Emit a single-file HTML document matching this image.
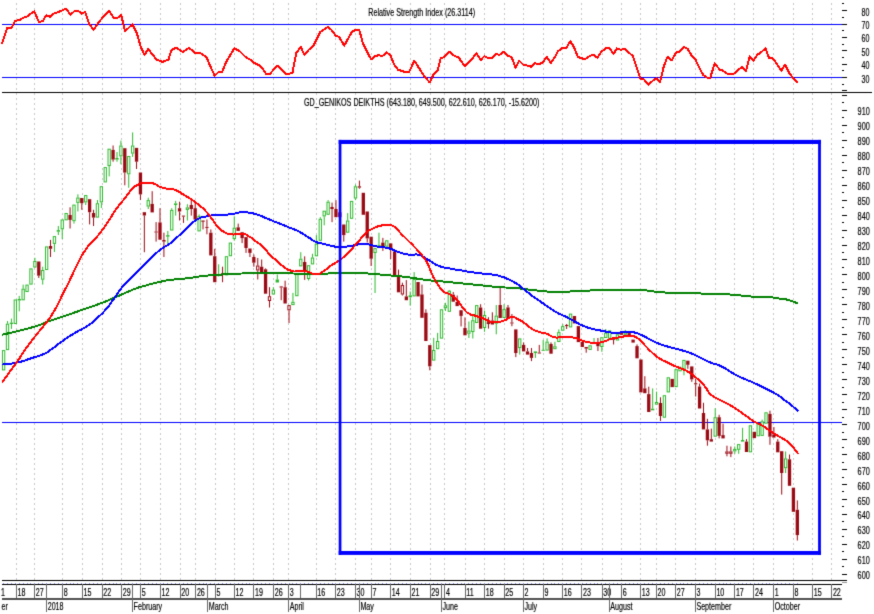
<!DOCTYPE html>
<html><head><meta charset="utf-8"><style>
html,body{margin:0;padding:0;background:#fff;overflow:hidden;}
svg{display:block;}

</style></head><body>
<svg width="874" height="614" viewBox="0 0 874 614" shape-rendering="crispEdges">
<defs><filter id="bl" x="0" y="0" width="874" height="614" filterUnits="userSpaceOnUse" color-interpolation-filters="sRGB"><feConvolveMatrix order="3" kernelMatrix="0.01440 0.09120 0.01440 0.09120 0.57760 0.09120 0.01440 0.09120 0.01440" divisor="1" edgeMode="duplicate" preserveAlpha="true"/></filter></defs>
<g filter="url(#bl)">
<rect x="0" y="0" width="874" height="614" fill="#fff"/>
<g stroke="#c8c8c8" stroke-width="1" stroke-dasharray="2 3"><line x1="16.5" y1="3" x2="16.5" y2="580" /><line x1="34.5" y1="3" x2="34.5" y2="580" /><line x1="62.5" y1="3" x2="62.5" y2="580" /><line x1="82.5" y1="3" x2="82.5" y2="580" /><line x1="102.5" y1="3" x2="102.5" y2="580" /><line x1="121.5" y1="3" x2="121.5" y2="580" /><line x1="140.5" y1="3" x2="140.5" y2="580" /><line x1="160.5" y1="3" x2="160.5" y2="580" /><line x1="180.5" y1="3" x2="180.5" y2="580" /><line x1="195.5" y1="3" x2="195.5" y2="580" /><line x1="215.5" y1="3" x2="215.5" y2="580" /><line x1="234.5" y1="3" x2="234.5" y2="580" /><line x1="253.5" y1="3" x2="253.5" y2="580" /><line x1="273.5" y1="3" x2="273.5" y2="580" /><line x1="288.5" y1="3" x2="288.5" y2="580" /><line x1="316.5" y1="3" x2="316.5" y2="580" /><line x1="335.5" y1="3" x2="335.5" y2="580" /><line x1="355.5" y1="3" x2="355.5" y2="580" /><line x1="371.5" y1="3" x2="371.5" y2="580" /><line x1="390.5" y1="3" x2="390.5" y2="580" /><line x1="410.5" y1="3" x2="410.5" y2="580" /><line x1="430.5" y1="3" x2="430.5" y2="580" /><line x1="444.5" y1="3" x2="444.5" y2="580" /><line x1="465.5" y1="3" x2="465.5" y2="580" /><line x1="484.5" y1="3" x2="484.5" y2="580" /><line x1="504.5" y1="3" x2="504.5" y2="580" /><line x1="523.5" y1="3" x2="523.5" y2="580" /><line x1="543.5" y1="3" x2="543.5" y2="580" /><line x1="562.5" y1="3" x2="562.5" y2="580" /><line x1="581.5" y1="3" x2="581.5" y2="580" /><line x1="602.5" y1="3" x2="602.5" y2="580" /><line x1="621.5" y1="3" x2="621.5" y2="580" /><line x1="640.5" y1="3" x2="640.5" y2="580" /><line x1="656.5" y1="3" x2="656.5" y2="580" /><line x1="675.5" y1="3" x2="675.5" y2="580" /><line x1="695.5" y1="3" x2="695.5" y2="580" /><line x1="715.5" y1="3" x2="715.5" y2="580" /><line x1="734.5" y1="3" x2="734.5" y2="580" /><line x1="753.5" y1="3" x2="753.5" y2="580" /><line x1="773.5" y1="3" x2="773.5" y2="580" /><line x1="793.5" y1="3" x2="793.5" y2="580" /><line x1="812.5" y1="3" x2="812.5" y2="580" /><line x1="831.5" y1="3" x2="831.5" y2="580" /></g>
<rect x="2" y="24" width="841" height="1" fill="#0000ff"/>
<rect x="2" y="77" width="841" height="1" fill="#0000ff"/>
<rect x="2" y="92" width="870" height="1" fill="#000"/>
<rect x="2" y="422" width="840" height="1" fill="#0000ff"/>
<rect x="2" y="580" width="845" height="1" fill="#000"/>
<rect x="2" y="584" width="840" height="1" fill="#000"/>
<rect x="2" y="598" width="840" height="2" fill="#505050"/>
<g fill="#9898ff"><rect x="3" y="583" width="1" height="1"/><rect x="7" y="583" width="1" height="1"/><rect x="11" y="583" width="1" height="1"/><rect x="15" y="583" width="1" height="1"/><rect x="19" y="583" width="1" height="1"/><rect x="23" y="583" width="1" height="1"/><rect x="27" y="583" width="1" height="1"/><rect x="30" y="583" width="1" height="1"/><rect x="34" y="583" width="1" height="1"/><rect x="38" y="583" width="1" height="1"/><rect x="42" y="583" width="1" height="1"/><rect x="46" y="583" width="1" height="1"/><rect x="50" y="583" width="1" height="1"/><rect x="54" y="583" width="1" height="1"/><rect x="58" y="583" width="1" height="1"/><rect x="62" y="583" width="1" height="1"/><rect x="66" y="583" width="1" height="1"/><rect x="70" y="583" width="1" height="1"/><rect x="73" y="583" width="1" height="1"/><rect x="77" y="583" width="1" height="1"/><rect x="81" y="583" width="1" height="1"/><rect x="85" y="583" width="1" height="1"/><rect x="89" y="583" width="1" height="1"/><rect x="93" y="583" width="1" height="1"/><rect x="97" y="583" width="1" height="1"/><rect x="101" y="583" width="1" height="1"/><rect x="105" y="583" width="1" height="1"/><rect x="109" y="583" width="1" height="1"/><rect x="113" y="583" width="1" height="1"/><rect x="116" y="583" width="1" height="1"/><rect x="120" y="583" width="1" height="1"/><rect x="124" y="583" width="1" height="1"/><rect x="128" y="583" width="1" height="1"/><rect x="132" y="583" width="1" height="1"/><rect x="136" y="583" width="1" height="1"/><rect x="140" y="583" width="1" height="1"/><rect x="144" y="583" width="1" height="1"/><rect x="148" y="583" width="1" height="1"/><rect x="152" y="583" width="1" height="1"/><rect x="156" y="583" width="1" height="1"/><rect x="160" y="583" width="1" height="1"/><rect x="163" y="583" width="1" height="1"/><rect x="167" y="583" width="1" height="1"/><rect x="171" y="583" width="1" height="1"/><rect x="175" y="583" width="1" height="1"/><rect x="179" y="583" width="1" height="1"/><rect x="183" y="583" width="1" height="1"/><rect x="187" y="583" width="1" height="1"/><rect x="191" y="583" width="1" height="1"/><rect x="195" y="583" width="1" height="1"/><rect x="199" y="583" width="1" height="1"/><rect x="203" y="583" width="1" height="1"/><rect x="206" y="583" width="1" height="1"/><rect x="210" y="583" width="1" height="1"/><rect x="214" y="583" width="1" height="1"/><rect x="218" y="583" width="1" height="1"/><rect x="222" y="583" width="1" height="1"/><rect x="226" y="583" width="1" height="1"/><rect x="230" y="583" width="1" height="1"/><rect x="234" y="583" width="1" height="1"/><rect x="238" y="583" width="1" height="1"/><rect x="242" y="583" width="1" height="1"/><rect x="246" y="583" width="1" height="1"/><rect x="249" y="583" width="1" height="1"/><rect x="253" y="583" width="1" height="1"/><rect x="257" y="583" width="1" height="1"/><rect x="261" y="583" width="1" height="1"/><rect x="265" y="583" width="1" height="1"/><rect x="269" y="583" width="1" height="1"/><rect x="273" y="583" width="1" height="1"/><rect x="277" y="583" width="1" height="1"/><rect x="281" y="583" width="1" height="1"/><rect x="285" y="583" width="1" height="1"/><rect x="289" y="583" width="1" height="1"/><rect x="292" y="583" width="1" height="1"/><rect x="296" y="583" width="1" height="1"/><rect x="300" y="583" width="1" height="1"/><rect x="304" y="583" width="1" height="1"/><rect x="308" y="583" width="1" height="1"/><rect x="312" y="583" width="1" height="1"/><rect x="316" y="583" width="1" height="1"/><rect x="320" y="583" width="1" height="1"/><rect x="324" y="583" width="1" height="1"/><rect x="328" y="583" width="1" height="1"/><rect x="332" y="583" width="1" height="1"/><rect x="335" y="583" width="1" height="1"/><rect x="339" y="583" width="1" height="1"/><rect x="343" y="583" width="1" height="1"/><rect x="347" y="583" width="1" height="1"/><rect x="351" y="583" width="1" height="1"/><rect x="355" y="583" width="1" height="1"/><rect x="359" y="583" width="1" height="1"/><rect x="363" y="583" width="1" height="1"/><rect x="367" y="583" width="1" height="1"/><rect x="371" y="583" width="1" height="1"/><rect x="375" y="583" width="1" height="1"/><rect x="378" y="583" width="1" height="1"/><rect x="382" y="583" width="1" height="1"/><rect x="386" y="583" width="1" height="1"/><rect x="390" y="583" width="1" height="1"/><rect x="394" y="583" width="1" height="1"/><rect x="398" y="583" width="1" height="1"/><rect x="402" y="583" width="1" height="1"/><rect x="406" y="583" width="1" height="1"/><rect x="410" y="583" width="1" height="1"/><rect x="414" y="583" width="1" height="1"/><rect x="418" y="583" width="1" height="1"/><rect x="421" y="583" width="1" height="1"/><rect x="425" y="583" width="1" height="1"/><rect x="429" y="583" width="1" height="1"/><rect x="433" y="583" width="1" height="1"/><rect x="437" y="583" width="1" height="1"/><rect x="441" y="583" width="1" height="1"/><rect x="445" y="583" width="1" height="1"/><rect x="449" y="583" width="1" height="1"/><rect x="453" y="583" width="1" height="1"/><rect x="457" y="583" width="1" height="1"/><rect x="461" y="583" width="1" height="1"/><rect x="464" y="583" width="1" height="1"/><rect x="468" y="583" width="1" height="1"/><rect x="472" y="583" width="1" height="1"/><rect x="476" y="583" width="1" height="1"/><rect x="480" y="583" width="1" height="1"/><rect x="484" y="583" width="1" height="1"/><rect x="488" y="583" width="1" height="1"/><rect x="492" y="583" width="1" height="1"/><rect x="496" y="583" width="1" height="1"/><rect x="500" y="583" width="1" height="1"/><rect x="504" y="583" width="1" height="1"/><rect x="507" y="583" width="1" height="1"/><rect x="511" y="583" width="1" height="1"/><rect x="515" y="583" width="1" height="1"/><rect x="519" y="583" width="1" height="1"/><rect x="523" y="583" width="1" height="1"/><rect x="527" y="583" width="1" height="1"/><rect x="531" y="583" width="1" height="1"/><rect x="535" y="583" width="1" height="1"/><rect x="539" y="583" width="1" height="1"/><rect x="543" y="583" width="1" height="1"/><rect x="547" y="583" width="1" height="1"/><rect x="551" y="583" width="1" height="1"/><rect x="554" y="583" width="1" height="1"/><rect x="558" y="583" width="1" height="1"/><rect x="562" y="583" width="1" height="1"/><rect x="566" y="583" width="1" height="1"/><rect x="570" y="583" width="1" height="1"/><rect x="574" y="583" width="1" height="1"/><rect x="578" y="583" width="1" height="1"/><rect x="582" y="583" width="1" height="1"/><rect x="586" y="583" width="1" height="1"/><rect x="590" y="583" width="1" height="1"/><rect x="594" y="583" width="1" height="1"/><rect x="597" y="583" width="1" height="1"/><rect x="601" y="583" width="1" height="1"/><rect x="605" y="583" width="1" height="1"/><rect x="609" y="583" width="1" height="1"/><rect x="613" y="583" width="1" height="1"/><rect x="617" y="583" width="1" height="1"/><rect x="621" y="583" width="1" height="1"/><rect x="625" y="583" width="1" height="1"/><rect x="629" y="583" width="1" height="1"/><rect x="633" y="583" width="1" height="1"/><rect x="637" y="583" width="1" height="1"/><rect x="640" y="583" width="1" height="1"/><rect x="644" y="583" width="1" height="1"/><rect x="648" y="583" width="1" height="1"/><rect x="652" y="583" width="1" height="1"/><rect x="656" y="583" width="1" height="1"/><rect x="660" y="583" width="1" height="1"/><rect x="664" y="583" width="1" height="1"/><rect x="668" y="583" width="1" height="1"/><rect x="672" y="583" width="1" height="1"/><rect x="676" y="583" width="1" height="1"/><rect x="680" y="583" width="1" height="1"/><rect x="683" y="583" width="1" height="1"/><rect x="687" y="583" width="1" height="1"/><rect x="691" y="583" width="1" height="1"/><rect x="695" y="583" width="1" height="1"/><rect x="699" y="583" width="1" height="1"/><rect x="703" y="583" width="1" height="1"/><rect x="707" y="583" width="1" height="1"/><rect x="711" y="583" width="1" height="1"/><rect x="715" y="583" width="1" height="1"/><rect x="719" y="583" width="1" height="1"/><rect x="723" y="583" width="1" height="1"/><rect x="726" y="583" width="1" height="1"/><rect x="730" y="583" width="1" height="1"/><rect x="734" y="583" width="1" height="1"/><rect x="738" y="583" width="1" height="1"/><rect x="742" y="583" width="1" height="1"/><rect x="746" y="583" width="1" height="1"/><rect x="750" y="583" width="1" height="1"/><rect x="754" y="583" width="1" height="1"/><rect x="758" y="583" width="1" height="1"/><rect x="762" y="583" width="1" height="1"/><rect x="766" y="583" width="1" height="1"/><rect x="769" y="583" width="1" height="1"/><rect x="773" y="583" width="1" height="1"/><rect x="777" y="583" width="1" height="1"/><rect x="781" y="583" width="1" height="1"/><rect x="785" y="583" width="1" height="1"/><rect x="789" y="583" width="1" height="1"/><rect x="793" y="583" width="1" height="1"/><rect x="797" y="583" width="1" height="1"/></g>
<g fill="#000"><rect x="842" y="90" width="5" height="1"/><rect x="842" y="84" width="2" height="1"/><rect x="842" y="77" width="5" height="1"/><rect x="842" y="70" width="2" height="1"/><rect x="842" y="64" width="5" height="1"/><rect x="842" y="57" width="2" height="1"/><rect x="842" y="50" width="5" height="1"/><rect x="842" y="44" width="2" height="1"/><rect x="842" y="37" width="5" height="1"/><rect x="842" y="30" width="2" height="1"/><rect x="842" y="24" width="5" height="1"/><rect x="842" y="17" width="2" height="1"/><rect x="842" y="10" width="5" height="1"/><rect x="842" y="3" width="2" height="1"/><rect x="842" y="582" width="5" height="1" fill="#999"/><rect x="842" y="574" width="5" height="1"/><rect x="842" y="566" width="2" height="1"/><rect x="842" y="559" width="5" height="1"/><rect x="842" y="551" width="2" height="1"/><rect x="842" y="544" width="5" height="1"/><rect x="842" y="536" width="2" height="1"/><rect x="842" y="529" width="5" height="1"/><rect x="842" y="521" width="2" height="1"/><rect x="842" y="514" width="5" height="1"/><rect x="842" y="506" width="2" height="1"/><rect x="842" y="499" width="5" height="1"/><rect x="842" y="491" width="2" height="1"/><rect x="842" y="484" width="5" height="1"/><rect x="842" y="477" width="2" height="1"/><rect x="842" y="469" width="5" height="1"/><rect x="842" y="462" width="2" height="1"/><rect x="842" y="454" width="5" height="1"/><rect x="842" y="447" width="2" height="1"/><rect x="842" y="439" width="5" height="1"/><rect x="842" y="432" width="2" height="1"/><rect x="842" y="424" width="5" height="1"/><rect x="842" y="417" width="2" height="1"/><rect x="842" y="409" width="5" height="1"/><rect x="842" y="402" width="2" height="1"/><rect x="842" y="394" width="5" height="1"/><rect x="842" y="387" width="2" height="1"/><rect x="842" y="379" width="5" height="1"/><rect x="842" y="372" width="2" height="1"/><rect x="842" y="364" width="5" height="1"/><rect x="842" y="357" width="2" height="1"/><rect x="842" y="349" width="5" height="1"/><rect x="842" y="342" width="2" height="1"/><rect x="842" y="334" width="5" height="1"/><rect x="842" y="327" width="2" height="1"/><rect x="842" y="319" width="5" height="1"/><rect x="842" y="312" width="2" height="1"/><rect x="842" y="304" width="5" height="1"/><rect x="842" y="297" width="2" height="1"/><rect x="842" y="289" width="5" height="1"/><rect x="842" y="282" width="2" height="1"/><rect x="842" y="274" width="5" height="1"/><rect x="842" y="267" width="2" height="1"/><rect x="842" y="259" width="5" height="1"/><rect x="842" y="252" width="2" height="1"/><rect x="842" y="245" width="5" height="1"/><rect x="842" y="237" width="2" height="1"/><rect x="842" y="230" width="5" height="1"/><rect x="842" y="222" width="2" height="1"/><rect x="842" y="215" width="5" height="1"/><rect x="842" y="207" width="2" height="1"/><rect x="842" y="200" width="5" height="1"/><rect x="842" y="192" width="2" height="1"/><rect x="842" y="185" width="5" height="1"/><rect x="842" y="177" width="2" height="1"/><rect x="842" y="170" width="5" height="1"/><rect x="842" y="162" width="2" height="1"/><rect x="842" y="155" width="5" height="1"/><rect x="842" y="147" width="2" height="1"/><rect x="842" y="140" width="5" height="1"/><rect x="842" y="132" width="2" height="1"/><rect x="842" y="125" width="5" height="1"/><rect x="842" y="117" width="2" height="1"/><rect x="842" y="110" width="5" height="1"/><rect x="842" y="102" width="2" height="1"/><rect x="842" y="95" width="5" height="1"/></g>
<g font-family="Liberation Sans, sans-serif" font-size="11.5" fill="#000" stroke="#000" stroke-width="0.2" shape-rendering="auto"><text x="861.6" y="82.5" textLength="7.9" lengthAdjust="spacingAndGlyphs" text-anchor="start">30</text><text x="861.6" y="69.1" textLength="7.9" lengthAdjust="spacingAndGlyphs" text-anchor="start">40</text><text x="861.6" y="55.8" textLength="7.9" lengthAdjust="spacingAndGlyphs" text-anchor="start">50</text><text x="861.6" y="42.4" textLength="7.9" lengthAdjust="spacingAndGlyphs" text-anchor="start">60</text><text x="861.6" y="29.0" textLength="7.9" lengthAdjust="spacingAndGlyphs" text-anchor="start">70</text><text x="861.6" y="15.6" textLength="7.9" lengthAdjust="spacingAndGlyphs" text-anchor="start">80</text><text x="857.6" y="579.3" textLength="12.2" lengthAdjust="spacingAndGlyphs" text-anchor="start">600</text><text x="857.6" y="564.3" textLength="12.2" lengthAdjust="spacingAndGlyphs" text-anchor="start">610</text><text x="857.6" y="549.4" textLength="12.2" lengthAdjust="spacingAndGlyphs" text-anchor="start">620</text><text x="857.6" y="534.4" textLength="12.2" lengthAdjust="spacingAndGlyphs" text-anchor="start">630</text><text x="857.6" y="519.4" textLength="12.2" lengthAdjust="spacingAndGlyphs" text-anchor="start">640</text><text x="857.6" y="504.5" textLength="12.2" lengthAdjust="spacingAndGlyphs" text-anchor="start">650</text><text x="857.6" y="489.5" textLength="12.2" lengthAdjust="spacingAndGlyphs" text-anchor="start">660</text><text x="857.6" y="474.5" textLength="12.2" lengthAdjust="spacingAndGlyphs" text-anchor="start">670</text><text x="857.6" y="459.6" textLength="12.2" lengthAdjust="spacingAndGlyphs" text-anchor="start">680</text><text x="857.6" y="444.6" textLength="12.2" lengthAdjust="spacingAndGlyphs" text-anchor="start">690</text><text x="857.6" y="429.6" textLength="12.2" lengthAdjust="spacingAndGlyphs" text-anchor="start">700</text><text x="857.6" y="414.7" textLength="12.2" lengthAdjust="spacingAndGlyphs" text-anchor="start">710</text><text x="857.6" y="399.7" textLength="12.2" lengthAdjust="spacingAndGlyphs" text-anchor="start">720</text><text x="857.6" y="384.7" textLength="12.2" lengthAdjust="spacingAndGlyphs" text-anchor="start">730</text><text x="857.6" y="369.7" textLength="12.2" lengthAdjust="spacingAndGlyphs" text-anchor="start">740</text><text x="857.6" y="354.8" textLength="12.2" lengthAdjust="spacingAndGlyphs" text-anchor="start">750</text><text x="857.6" y="339.8" textLength="12.2" lengthAdjust="spacingAndGlyphs" text-anchor="start">760</text><text x="857.6" y="324.8" textLength="12.2" lengthAdjust="spacingAndGlyphs" text-anchor="start">770</text><text x="857.6" y="309.9" textLength="12.2" lengthAdjust="spacingAndGlyphs" text-anchor="start">780</text><text x="857.6" y="294.9" textLength="12.2" lengthAdjust="spacingAndGlyphs" text-anchor="start">790</text><text x="857.6" y="279.9" textLength="12.2" lengthAdjust="spacingAndGlyphs" text-anchor="start">800</text><text x="857.6" y="265.0" textLength="12.2" lengthAdjust="spacingAndGlyphs" text-anchor="start">810</text><text x="857.6" y="250.0" textLength="12.2" lengthAdjust="spacingAndGlyphs" text-anchor="start">820</text><text x="857.6" y="235.0" textLength="12.2" lengthAdjust="spacingAndGlyphs" text-anchor="start">830</text><text x="857.6" y="220.1" textLength="12.2" lengthAdjust="spacingAndGlyphs" text-anchor="start">840</text><text x="857.6" y="205.1" textLength="12.2" lengthAdjust="spacingAndGlyphs" text-anchor="start">850</text><text x="857.6" y="190.1" textLength="12.2" lengthAdjust="spacingAndGlyphs" text-anchor="start">860</text><text x="857.6" y="175.2" textLength="12.2" lengthAdjust="spacingAndGlyphs" text-anchor="start">870</text><text x="857.6" y="160.2" textLength="12.2" lengthAdjust="spacingAndGlyphs" text-anchor="start">880</text><text x="857.6" y="145.2" textLength="12.2" lengthAdjust="spacingAndGlyphs" text-anchor="start">890</text><text x="857.6" y="130.3" textLength="12.2" lengthAdjust="spacingAndGlyphs" text-anchor="start">900</text><text x="857.6" y="115.3" textLength="12.2" lengthAdjust="spacingAndGlyphs" text-anchor="start">910</text><text x="368.2" y="15.5" textLength="107.0" lengthAdjust="spacingAndGlyphs" text-anchor="start">Relative Strength Index (26.3114)</text><text x="303.9" y="105.6" textLength="235.6" lengthAdjust="spacingAndGlyphs" text-anchor="start">GD_GENIKOS DEIKTHS (643.180, 649.500, 622.610, 626.170, -15.6200)</text><text x="17.6" y="595.6" textLength="7.93" lengthAdjust="spacingAndGlyphs" text-anchor="start">18</text><text x="35.8" y="595.6" textLength="7.93" lengthAdjust="spacingAndGlyphs" text-anchor="start">27</text><text x="63.7" y="595.6" textLength="3.96" lengthAdjust="spacingAndGlyphs" text-anchor="start">8</text><text x="83.6" y="595.6" textLength="7.93" lengthAdjust="spacingAndGlyphs" text-anchor="start">15</text><text x="103.2" y="595.6" textLength="7.93" lengthAdjust="spacingAndGlyphs" text-anchor="start">22</text><text x="122.7" y="595.6" textLength="7.93" lengthAdjust="spacingAndGlyphs" text-anchor="start">29</text><text x="141.8" y="595.6" textLength="3.96" lengthAdjust="spacingAndGlyphs" text-anchor="start">5</text><text x="161.5" y="595.6" textLength="7.93" lengthAdjust="spacingAndGlyphs" text-anchor="start">12</text><text x="181.3" y="595.6" textLength="7.93" lengthAdjust="spacingAndGlyphs" text-anchor="start">20</text><text x="196.9" y="595.6" textLength="7.93" lengthAdjust="spacingAndGlyphs" text-anchor="start">26</text><text x="216.6" y="595.6" textLength="3.96" lengthAdjust="spacingAndGlyphs" text-anchor="start">5</text><text x="235.6" y="595.6" textLength="7.93" lengthAdjust="spacingAndGlyphs" text-anchor="start">12</text><text x="255.1" y="595.6" textLength="7.93" lengthAdjust="spacingAndGlyphs" text-anchor="start">19</text><text x="274.7" y="595.6" textLength="7.93" lengthAdjust="spacingAndGlyphs" text-anchor="start">26</text><text x="289.7" y="595.6" textLength="3.96" lengthAdjust="spacingAndGlyphs" text-anchor="start">3</text><text x="317.2" y="595.6" textLength="7.93" lengthAdjust="spacingAndGlyphs" text-anchor="start">16</text><text x="336.8" y="595.6" textLength="7.93" lengthAdjust="spacingAndGlyphs" text-anchor="start">23</text><text x="356.6" y="595.6" textLength="7.93" lengthAdjust="spacingAndGlyphs" text-anchor="start">30</text><text x="372.6" y="595.6" textLength="3.96" lengthAdjust="spacingAndGlyphs" text-anchor="start">7</text><text x="391.8" y="595.6" textLength="7.93" lengthAdjust="spacingAndGlyphs" text-anchor="start">14</text><text x="411.6" y="595.6" textLength="7.93" lengthAdjust="spacingAndGlyphs" text-anchor="start">21</text><text x="431.3" y="595.6" textLength="7.93" lengthAdjust="spacingAndGlyphs" text-anchor="start">29</text><text x="445.9" y="595.6" textLength="3.96" lengthAdjust="spacingAndGlyphs" text-anchor="start">4</text><text x="466.3" y="595.6" textLength="7.4" lengthAdjust="spacingAndGlyphs" text-anchor="start">11</text><text x="485.8" y="595.6" textLength="7.93" lengthAdjust="spacingAndGlyphs" text-anchor="start">18</text><text x="505.3" y="595.6" textLength="7.93" lengthAdjust="spacingAndGlyphs" text-anchor="start">25</text><text x="524.5" y="595.6" textLength="3.96" lengthAdjust="spacingAndGlyphs" text-anchor="start">2</text><text x="544.4" y="595.6" textLength="3.96" lengthAdjust="spacingAndGlyphs" text-anchor="start">9</text><text x="563.8" y="595.6" textLength="7.93" lengthAdjust="spacingAndGlyphs" text-anchor="start">16</text><text x="583.0" y="595.6" textLength="7.93" lengthAdjust="spacingAndGlyphs" text-anchor="start">23</text><text x="603.2" y="595.6" textLength="7.93" lengthAdjust="spacingAndGlyphs" text-anchor="start">30</text><text x="622.8" y="595.6" textLength="3.96" lengthAdjust="spacingAndGlyphs" text-anchor="start">6</text><text x="641.7" y="595.6" textLength="7.93" lengthAdjust="spacingAndGlyphs" text-anchor="start">13</text><text x="657.5" y="595.6" textLength="7.93" lengthAdjust="spacingAndGlyphs" text-anchor="start">20</text><text x="676.7" y="595.6" textLength="7.93" lengthAdjust="spacingAndGlyphs" text-anchor="start">27</text><text x="696.4" y="595.6" textLength="3.96" lengthAdjust="spacingAndGlyphs" text-anchor="start">3</text><text x="716.4" y="595.6" textLength="7.93" lengthAdjust="spacingAndGlyphs" text-anchor="start">10</text><text x="735.9" y="595.6" textLength="7.93" lengthAdjust="spacingAndGlyphs" text-anchor="start">17</text><text x="755.1" y="595.6" textLength="7.93" lengthAdjust="spacingAndGlyphs" text-anchor="start">24</text><text x="774.7" y="595.6" textLength="3.96" lengthAdjust="spacingAndGlyphs" text-anchor="start">1</text><text x="794.4" y="595.6" textLength="3.96" lengthAdjust="spacingAndGlyphs" text-anchor="start">8</text><text x="813.7" y="595.6" textLength="7.93" lengthAdjust="spacingAndGlyphs" text-anchor="start">15</text><text x="832.9" y="595.6" textLength="7.93" lengthAdjust="spacingAndGlyphs" text-anchor="start">22</text><text x="1.0" y="595.6" textLength="3.96" lengthAdjust="spacingAndGlyphs" text-anchor="start">1</text><text x="47.7" y="609.8" textLength="15.86" lengthAdjust="spacingAndGlyphs" text-anchor="start">2018</text><text x="133.6" y="609.8" textLength="28.53" lengthAdjust="spacingAndGlyphs" text-anchor="start">February</text><text x="208.7" y="609.8" textLength="19.81" lengthAdjust="spacingAndGlyphs" text-anchor="start">March</text><text x="289.7" y="609.8" textLength="14.26" lengthAdjust="spacingAndGlyphs" text-anchor="start">April</text><text x="360.4" y="609.8" textLength="13.47" lengthAdjust="spacingAndGlyphs" text-anchor="start">May</text><text x="442.5" y="609.8" textLength="15.46" lengthAdjust="spacingAndGlyphs" text-anchor="start">June</text><text x="524.5" y="609.8" textLength="12.68" lengthAdjust="spacingAndGlyphs" text-anchor="start">July</text><text x="610.3" y="609.8" textLength="22.2" lengthAdjust="spacingAndGlyphs" text-anchor="start">August</text><text x="696.4" y="609.8" textLength="34.87" lengthAdjust="spacingAndGlyphs" text-anchor="start">September</text><text x="774.7" y="609.8" textLength="25.36" lengthAdjust="spacingAndGlyphs" text-anchor="start">October</text><text x="1.6" y="609.8" textLength="6.34" lengthAdjust="spacingAndGlyphs" text-anchor="start">er</text></g>
<g fill="#686868"><rect x="16" y="584" width="1" height="14"/><rect x="34" y="584" width="1" height="14"/><rect x="62" y="584" width="1" height="14"/><rect x="82" y="584" width="1" height="14"/><rect x="102" y="584" width="1" height="14"/><rect x="121" y="584" width="1" height="14"/><rect x="140" y="584" width="1" height="14"/><rect x="160" y="584" width="1" height="14"/><rect x="180" y="584" width="1" height="14"/><rect x="195" y="584" width="1" height="14"/><rect x="215" y="584" width="1" height="14"/><rect x="234" y="584" width="1" height="14"/><rect x="253" y="584" width="1" height="14"/><rect x="273" y="584" width="1" height="14"/><rect x="288" y="584" width="1" height="14"/><rect x="300" y="584" width="1" height="14"/><rect x="316" y="584" width="1" height="14"/><rect x="335" y="584" width="1" height="14"/><rect x="355" y="584" width="1" height="14"/><rect x="371" y="584" width="1" height="14"/><rect x="390" y="584" width="1" height="14"/><rect x="410" y="584" width="1" height="14"/><rect x="430" y="584" width="1" height="14"/><rect x="444" y="584" width="1" height="14"/><rect x="465" y="584" width="1" height="14"/><rect x="484" y="584" width="1" height="14"/><rect x="504" y="584" width="1" height="14"/><rect x="523" y="584" width="1" height="14"/><rect x="543" y="584" width="1" height="14"/><rect x="562" y="584" width="1" height="14"/><rect x="581" y="584" width="1" height="14"/><rect x="602" y="584" width="1" height="14"/><rect x="621" y="584" width="1" height="14"/><rect x="640" y="584" width="1" height="14"/><rect x="656" y="584" width="1" height="14"/><rect x="675" y="584" width="1" height="14"/><rect x="695" y="584" width="1" height="14"/><rect x="715" y="584" width="1" height="14"/><rect x="734" y="584" width="1" height="14"/><rect x="753" y="584" width="1" height="14"/><rect x="773" y="584" width="1" height="14"/><rect x="793" y="584" width="1" height="14"/><rect x="812" y="584" width="1" height="14"/><rect x="831" y="584" width="1" height="14"/><rect x="46" y="584" width="1" height="28"/><rect x="132" y="584" width="1" height="28"/><rect x="207" y="584" width="1" height="28"/><rect x="288" y="584" width="1" height="28"/><rect x="359" y="584" width="1" height="28"/><rect x="441" y="584" width="1" height="28"/><rect x="523" y="584" width="1" height="28"/><rect x="609" y="584" width="1" height="28"/><rect x="695" y="584" width="1" height="28"/><rect x="773" y="584" width="1" height="28"/></g>
<g shape-rendering="auto"><rect x="2.45" y="350.60" width="2.30" height="19.30" fill="#fff" stroke="#2eb82e" stroke-width="1"/><rect x="7.01" y="321.10" width="1" height="2.60" fill="#2eb82e"/><rect x="6.36" y="324.20" width="2.30" height="25.40" fill="#fff" stroke="#2eb82e" stroke-width="1"/><rect x="10.92" y="318.60" width="1" height="4.00" fill="#2eb82e"/><rect x="10.92" y="324.00" width="1" height="4.90" fill="#2eb82e"/><rect x="9.77" y="322.60" width="3.3" height="1.40" fill="#2eb82e"/><rect x="14.18" y="300.00" width="2.30" height="23.50" fill="#fff" stroke="#2eb82e" stroke-width="1"/><rect x="18.74" y="295.90" width="1" height="3.10" fill="#2eb82e"/><rect x="18.74" y="300.50" width="1" height="10.80" fill="#2eb82e"/><rect x="17.59" y="299.00" width="3.3" height="1.50" fill="#2eb82e"/><rect x="22.65" y="284.60" width="1" height="4.10" fill="#2eb82e"/><rect x="22.00" y="289.20" width="2.30" height="10.60" fill="#fff" stroke="#2eb82e" stroke-width="1"/><rect x="25.91" y="285.10" width="2.30" height="6.40" fill="#fff" stroke="#2eb82e" stroke-width="1"/><rect x="29.82" y="268.90" width="2.30" height="15.20" fill="#fff" stroke="#2eb82e" stroke-width="1"/><rect x="34.38" y="257.80" width="1" height="3.20" fill="#2eb82e"/><rect x="34.38" y="267.50" width="1" height="0.50" fill="#2eb82e"/><rect x="33.73" y="261.50" width="2.30" height="5.50" fill="#fff" stroke="#2eb82e" stroke-width="1"/><rect x="38.29" y="275.70" width="1" height="2.30" fill="#9a0a14"/><rect x="37.14" y="261.50" width="3.3" height="14.20" fill="#9a0a14"/><rect x="42.20" y="266.70" width="1" height="3.30" fill="#2eb82e"/><rect x="42.20" y="279.70" width="1" height="4.90" fill="#2eb82e"/><rect x="41.55" y="270.50" width="2.30" height="8.70" fill="#fff" stroke="#2eb82e" stroke-width="1"/><rect x="45.46" y="246.90" width="2.30" height="22.60" fill="#fff" stroke="#2eb82e" stroke-width="1"/><rect x="50.02" y="239.90" width="1" height="6.10" fill="#9a0a14"/><rect x="50.02" y="248.80" width="1" height="8.20" fill="#9a0a14"/><rect x="48.87" y="246.00" width="3.3" height="2.80" fill="#9a0a14"/><rect x="53.93" y="243.90" width="1" height="8.10" fill="#2eb82e"/><rect x="53.28" y="236.60" width="2.30" height="6.80" fill="#fff" stroke="#2eb82e" stroke-width="1"/><rect x="57.84" y="226.00" width="1" height="4.10" fill="#2eb82e"/><rect x="57.84" y="231.70" width="1" height="3.30" fill="#2eb82e"/><rect x="56.69" y="230.10" width="3.3" height="1.60" fill="#2eb82e"/><rect x="61.75" y="229.30" width="1" height="9.70" fill="#2eb82e"/><rect x="61.10" y="220.00" width="2.30" height="8.80" fill="#fff" stroke="#2eb82e" stroke-width="1"/><rect x="65.01" y="213.50" width="2.30" height="6.30" fill="#fff" stroke="#2eb82e" stroke-width="1"/><rect x="69.57" y="207.30" width="1" height="7.70" fill="#9a0a14"/><rect x="69.57" y="219.90" width="1" height="8.60" fill="#9a0a14"/><rect x="68.42" y="215.00" width="3.3" height="4.90" fill="#9a0a14"/><rect x="73.48" y="221.20" width="1" height="2.40" fill="#2eb82e"/><rect x="72.83" y="205.10" width="2.30" height="15.60" fill="#fff" stroke="#2eb82e" stroke-width="1"/><rect x="77.39" y="194.30" width="1" height="3.20" fill="#2eb82e"/><rect x="77.39" y="202.90" width="1" height="8.50" fill="#2eb82e"/><rect x="76.74" y="198.00" width="2.30" height="4.40" fill="#fff" stroke="#2eb82e" stroke-width="1"/><rect x="81.30" y="203.20" width="1" height="6.60" fill="#9a0a14"/><rect x="80.15" y="198.00" width="3.3" height="5.20" fill="#9a0a14"/><rect x="85.21" y="202.40" width="1" height="2.60" fill="#2eb82e"/><rect x="84.56" y="195.60" width="2.30" height="6.30" fill="#fff" stroke="#2eb82e" stroke-width="1"/><rect x="89.12" y="212.20" width="1" height="12.20" fill="#9a0a14"/><rect x="87.97" y="199.20" width="3.3" height="13.00" fill="#9a0a14"/><rect x="93.03" y="209.80" width="1" height="3.20" fill="#9a0a14"/><rect x="93.03" y="217.60" width="1" height="8.40" fill="#9a0a14"/><rect x="91.88" y="213.00" width="3.3" height="4.60" fill="#9a0a14"/><rect x="96.94" y="200.00" width="1" height="3.20" fill="#2eb82e"/><rect x="96.29" y="203.70" width="2.30" height="13.40" fill="#fff" stroke="#2eb82e" stroke-width="1"/><rect x="100.85" y="202.40" width="1" height="5.60" fill="#2eb82e"/><rect x="100.20" y="186.70" width="2.30" height="15.20" fill="#fff" stroke="#2eb82e" stroke-width="1"/><rect x="104.11" y="167.60" width="2.30" height="14.30" fill="#fff" stroke="#2eb82e" stroke-width="1"/><rect x="108.67" y="166.10" width="1" height="10.30" fill="#2eb82e"/><rect x="108.02" y="149.20" width="2.30" height="16.40" fill="#fff" stroke="#2eb82e" stroke-width="1"/><rect x="112.58" y="145.50" width="1" height="4.40" fill="#9a0a14"/><rect x="112.58" y="159.60" width="1" height="2.10" fill="#9a0a14"/><rect x="111.43" y="149.90" width="3.3" height="9.70" fill="#9a0a14"/><rect x="116.49" y="152.00" width="1" height="6.00" fill="#2eb82e"/><rect x="116.49" y="159.60" width="1" height="2.10" fill="#2eb82e"/><rect x="115.34" y="158.00" width="3.3" height="1.60" fill="#2eb82e"/><rect x="120.40" y="140.60" width="1" height="4.90" fill="#2eb82e"/><rect x="120.40" y="156.40" width="1" height="7.80" fill="#2eb82e"/><rect x="119.75" y="146.00" width="2.30" height="9.90" fill="#fff" stroke="#2eb82e" stroke-width="1"/><rect x="124.31" y="172.60" width="1" height="12.70" fill="#9a0a14"/><rect x="123.16" y="148.20" width="3.3" height="24.40" fill="#9a0a14"/><rect x="128.22" y="174.30" width="1" height="13.50" fill="#2eb82e"/><rect x="127.57" y="156.50" width="2.30" height="17.30" fill="#fff" stroke="#2eb82e" stroke-width="1"/><rect x="132.13" y="132.40" width="1" height="13.10" fill="#2eb82e"/><rect x="132.13" y="153.60" width="1" height="3.30" fill="#2eb82e"/><rect x="131.48" y="146.00" width="2.30" height="7.10" fill="#fff" stroke="#2eb82e" stroke-width="1"/><rect x="136.04" y="161.70" width="1" height="7.30" fill="#9a0a14"/><rect x="134.89" y="147.90" width="3.3" height="13.80" fill="#9a0a14"/><rect x="139.95" y="194.40" width="1" height="5.60" fill="#9a0a14"/><rect x="138.80" y="172.50" width="3.3" height="21.90" fill="#9a0a14"/><rect x="143.86" y="215.50" width="1" height="36.70" fill="#9a0a14"/><rect x="142.71" y="212.20" width="3.3" height="3.30" fill="#9a0a14"/><rect x="147.77" y="197.70" width="1" height="2.40" fill="#2eb82e"/><rect x="147.77" y="206.60" width="1" height="2.40" fill="#2eb82e"/><rect x="147.12" y="200.60" width="2.30" height="5.50" fill="#fff" stroke="#2eb82e" stroke-width="1"/><rect x="151.68" y="191.20" width="1" height="12.70" fill="#9a0a14"/><rect x="150.53" y="203.90" width="3.3" height="8.50" fill="#9a0a14"/><rect x="155.59" y="222.10" width="1" height="9.40" fill="#9a0a14"/><rect x="155.59" y="232.50" width="1" height="9.10" fill="#9a0a14"/><rect x="154.44" y="231.50" width="3.3" height="1.00" fill="#9a0a14"/><rect x="159.50" y="208.20" width="1" height="14.20" fill="#9a0a14"/><rect x="158.35" y="222.40" width="3.3" height="17.30" fill="#9a0a14"/><rect x="163.41" y="232.70" width="1" height="7.30" fill="#9a0a14"/><rect x="163.41" y="241.60" width="1" height="15.40" fill="#9a0a14"/><rect x="162.26" y="240.00" width="3.3" height="1.60" fill="#9a0a14"/><rect x="167.32" y="231.00" width="1" height="4.10" fill="#2eb82e"/><rect x="167.32" y="236.70" width="1" height="8.20" fill="#2eb82e"/><rect x="166.17" y="235.10" width="3.3" height="1.60" fill="#2eb82e"/><rect x="171.23" y="208.20" width="1" height="1.70" fill="#2eb82e"/><rect x="170.58" y="210.40" width="2.30" height="19.60" fill="#fff" stroke="#2eb82e" stroke-width="1"/><rect x="175.14" y="200.90" width="1" height="2.50" fill="#2eb82e"/><rect x="175.14" y="205.00" width="1" height="10.60" fill="#2eb82e"/><rect x="173.99" y="203.40" width="3.3" height="1.60" fill="#2eb82e"/><rect x="179.05" y="201.70" width="1" height="6.50" fill="#9a0a14"/><rect x="179.05" y="211.50" width="1" height="9.00" fill="#9a0a14"/><rect x="177.90" y="208.20" width="3.3" height="3.30" fill="#9a0a14"/><rect x="182.96" y="216.60" width="1" height="6.30" fill="#9a0a14"/><rect x="181.81" y="215.60" width="3.3" height="1.00" fill="#9a0a14"/><rect x="186.87" y="204.20" width="1" height="3.20" fill="#2eb82e"/><rect x="186.87" y="209.90" width="1" height="10.60" fill="#2eb82e"/><rect x="186.22" y="207.90" width="2.30" height="1.50" fill="#fff" stroke="#2eb82e" stroke-width="1"/><rect x="190.78" y="200.10" width="1" height="4.90" fill="#9a0a14"/><rect x="190.78" y="209.00" width="1" height="6.60" fill="#9a0a14"/><rect x="189.63" y="205.00" width="3.3" height="4.00" fill="#9a0a14"/><rect x="194.69" y="203.00" width="1" height="5.20" fill="#9a0a14"/><rect x="193.54" y="208.20" width="3.3" height="11.40" fill="#9a0a14"/><rect x="198.60" y="214.40" width="1" height="1.50" fill="#2eb82e"/><rect x="197.95" y="216.40" width="2.30" height="14.50" fill="#fff" stroke="#2eb82e" stroke-width="1"/><rect x="202.51" y="221.80" width="1" height="7.60" fill="#9a0a14"/><rect x="201.36" y="220.50" width="3.3" height="1.30" fill="#9a0a14"/><rect x="206.42" y="219.50" width="1" height="7.40" fill="#9a0a14"/><rect x="206.42" y="227.90" width="1" height="6.40" fill="#9a0a14"/><rect x="205.27" y="226.90" width="3.3" height="1.00" fill="#9a0a14"/><rect x="210.33" y="229.40" width="1" height="3.30" fill="#9a0a14"/><rect x="209.18" y="232.70" width="3.3" height="22.70" fill="#9a0a14"/><rect x="214.24" y="248.80" width="1" height="7.40" fill="#9a0a14"/><rect x="213.09" y="256.20" width="3.3" height="26.00" fill="#9a0a14"/><rect x="218.15" y="264.30" width="1" height="9.70" fill="#2eb82e"/><rect x="218.15" y="275.20" width="1" height="1.30" fill="#2eb82e"/><rect x="217.00" y="274.00" width="3.3" height="1.20" fill="#2eb82e"/><rect x="222.06" y="266.70" width="1" height="6.50" fill="#9a0a14"/><rect x="222.06" y="274.20" width="1" height="8.00" fill="#9a0a14"/><rect x="220.91" y="273.20" width="3.3" height="1.00" fill="#9a0a14"/><rect x="225.32" y="256.70" width="2.30" height="18.20" fill="#fff" stroke="#2eb82e" stroke-width="1"/><rect x="229.23" y="243.10" width="2.30" height="12.60" fill="#fff" stroke="#2eb82e" stroke-width="1"/><rect x="233.79" y="216.30" width="1" height="11.40" fill="#2eb82e"/><rect x="233.79" y="239.10" width="1" height="1.60" fill="#2eb82e"/><rect x="233.14" y="228.20" width="2.30" height="10.40" fill="#fff" stroke="#2eb82e" stroke-width="1"/><rect x="237.70" y="223.60" width="1" height="3.70" fill="#9a0a14"/><rect x="236.55" y="227.30" width="3.3" height="3.60" fill="#9a0a14"/><rect x="241.61" y="238.20" width="1" height="4.90" fill="#9a0a14"/><rect x="240.46" y="232.20" width="3.3" height="6.00" fill="#9a0a14"/><rect x="245.52" y="248.00" width="1" height="4.90" fill="#9a0a14"/><rect x="244.37" y="237.10" width="3.3" height="10.90" fill="#9a0a14"/><rect x="249.43" y="252.90" width="1" height="4.10" fill="#9a0a14"/><rect x="248.28" y="248.50" width="3.3" height="4.40" fill="#9a0a14"/><rect x="253.34" y="254.50" width="1" height="2.50" fill="#9a0a14"/><rect x="253.34" y="262.70" width="1" height="4.00" fill="#9a0a14"/><rect x="252.19" y="257.00" width="3.3" height="5.70" fill="#9a0a14"/><rect x="257.25" y="258.00" width="1" height="7.50" fill="#9a0a14"/><rect x="257.25" y="270.50" width="1" height="9.00" fill="#9a0a14"/><rect x="256.60" y="266.00" width="2.30" height="4.00" fill="#fff" stroke="#9a0a14" stroke-width="1"/><rect x="261.16" y="259.50" width="1" height="7.20" fill="#9a0a14"/><rect x="260.01" y="266.70" width="3.3" height="5.80" fill="#9a0a14"/><rect x="265.07" y="268.40" width="1" height="0.90" fill="#9a0a14"/><rect x="263.92" y="269.30" width="3.3" height="24.40" fill="#9a0a14"/><rect x="268.98" y="287.20" width="1" height="9.00" fill="#9a0a14"/><rect x="268.98" y="301.00" width="1" height="6.50" fill="#9a0a14"/><rect x="268.33" y="296.70" width="2.30" height="3.80" fill="#fff" stroke="#9a0a14" stroke-width="1"/><rect x="272.89" y="287.20" width="1" height="2.40" fill="#2eb82e"/><rect x="272.24" y="290.10" width="2.30" height="3.90" fill="#fff" stroke="#2eb82e" stroke-width="1"/><rect x="276.80" y="274.50" width="1" height="5.00" fill="#2eb82e"/><rect x="275.65" y="279.50" width="3.3" height="3.00" fill="#2eb82e"/><rect x="280.71" y="287.50" width="1" height="12.70" fill="#9a0a14"/><rect x="279.56" y="286.40" width="3.3" height="1.10" fill="#9a0a14"/><rect x="284.62" y="280.70" width="1" height="6.50" fill="#9a0a14"/><rect x="283.47" y="287.20" width="3.3" height="16.30" fill="#9a0a14"/><rect x="288.53" y="310.30" width="1" height="12.70" fill="#9a0a14"/><rect x="287.88" y="305.60" width="2.30" height="4.20" fill="#fff" stroke="#9a0a14" stroke-width="1"/><rect x="292.44" y="292.90" width="1" height="8.90" fill="#2eb82e"/><rect x="291.79" y="302.30" width="2.30" height="2.30" fill="#fff" stroke="#2eb82e" stroke-width="1"/><rect x="295.70" y="273.90" width="2.30" height="21.80" fill="#fff" stroke="#2eb82e" stroke-width="1"/><rect x="300.26" y="252.20" width="1" height="6.50" fill="#2eb82e"/><rect x="299.61" y="259.20" width="2.30" height="6.70" fill="#fff" stroke="#2eb82e" stroke-width="1"/><rect x="304.17" y="256.30" width="1" height="5.70" fill="#9a0a14"/><rect x="304.17" y="271.70" width="1" height="8.20" fill="#9a0a14"/><rect x="303.02" y="262.00" width="3.3" height="9.70" fill="#9a0a14"/><rect x="308.08" y="279.00" width="1" height="1.50" fill="#2eb82e"/><rect x="307.43" y="265.70" width="2.30" height="12.80" fill="#fff" stroke="#2eb82e" stroke-width="1"/><rect x="311.99" y="253.80" width="1" height="3.70" fill="#2eb82e"/><rect x="311.34" y="258.00" width="2.30" height="5.90" fill="#fff" stroke="#2eb82e" stroke-width="1"/><rect x="315.90" y="235.10" width="1" height="8.50" fill="#2eb82e"/><rect x="315.25" y="244.10" width="2.30" height="11.70" fill="#fff" stroke="#2eb82e" stroke-width="1"/><rect x="319.81" y="217.20" width="1" height="1.60" fill="#2eb82e"/><rect x="319.16" y="219.30" width="2.30" height="21.00" fill="#fff" stroke="#2eb82e" stroke-width="1"/><rect x="323.72" y="216.40" width="1" height="8.90" fill="#2eb82e"/><rect x="323.07" y="211.20" width="2.30" height="4.70" fill="#fff" stroke="#2eb82e" stroke-width="1"/><rect x="327.63" y="200.10" width="1" height="1.60" fill="#2eb82e"/><rect x="326.98" y="202.20" width="2.30" height="12.10" fill="#fff" stroke="#2eb82e" stroke-width="1"/><rect x="331.54" y="202.60" width="1" height="4.40" fill="#9a0a14"/><rect x="331.54" y="209.00" width="1" height="13.10" fill="#9a0a14"/><rect x="330.39" y="207.00" width="3.3" height="2.00" fill="#9a0a14"/><rect x="335.45" y="200.10" width="1" height="8.90" fill="#9a0a14"/><rect x="334.30" y="209.00" width="3.3" height="8.20" fill="#9a0a14"/><rect x="338.21" y="212.30" width="3.3" height="4.90" fill="#9a0a14"/><rect x="343.27" y="235.10" width="1" height="6.50" fill="#9a0a14"/><rect x="342.12" y="224.50" width="3.3" height="10.60" fill="#9a0a14"/><rect x="347.18" y="213.10" width="1" height="7.40" fill="#2eb82e"/><rect x="346.53" y="221.00" width="2.30" height="11.20" fill="#fff" stroke="#2eb82e" stroke-width="1"/><rect x="350.44" y="201.40" width="2.30" height="16.90" fill="#fff" stroke="#2eb82e" stroke-width="1"/><rect x="355.00" y="184.60" width="1" height="1.70" fill="#2eb82e"/><rect x="355.00" y="198.50" width="1" height="1.60" fill="#2eb82e"/><rect x="354.35" y="186.80" width="2.30" height="11.20" fill="#fff" stroke="#2eb82e" stroke-width="1"/><rect x="358.91" y="180.60" width="1" height="5.70" fill="#9a0a14"/><rect x="358.91" y="187.60" width="1" height="1.10" fill="#9a0a14"/><rect x="357.76" y="186.30" width="3.3" height="1.30" fill="#9a0a14"/><rect x="361.67" y="192.80" width="3.3" height="22.00" fill="#9a0a14"/><rect x="366.73" y="238.40" width="1" height="4.00" fill="#9a0a14"/><rect x="365.58" y="211.50" width="3.3" height="26.90" fill="#9a0a14"/><rect x="370.64" y="258.70" width="1" height="7.30" fill="#9a0a14"/><rect x="369.49" y="236.70" width="3.3" height="22.00" fill="#9a0a14"/><rect x="374.55" y="253.00" width="1" height="40.00" fill="#2eb82e"/><rect x="373.90" y="248.60" width="2.30" height="3.90" fill="#fff" stroke="#2eb82e" stroke-width="1"/><rect x="378.46" y="232.70" width="1" height="12.20" fill="#2eb82e"/><rect x="378.46" y="245.90" width="1" height="0.60" fill="#2eb82e"/><rect x="377.31" y="244.90" width="3.3" height="1.00" fill="#2eb82e"/><rect x="382.37" y="237.90" width="1" height="4.70" fill="#9a0a14"/><rect x="382.37" y="246.70" width="1" height="4.20" fill="#9a0a14"/><rect x="381.22" y="242.60" width="3.3" height="4.10" fill="#9a0a14"/><rect x="385.63" y="240.80" width="2.30" height="5.40" fill="#fff" stroke="#2eb82e" stroke-width="1"/><rect x="390.19" y="248.70" width="1" height="10.30" fill="#9a0a14"/><rect x="389.04" y="243.40" width="3.3" height="5.30" fill="#9a0a14"/><rect x="392.95" y="251.50" width="3.3" height="23.80" fill="#9a0a14"/><rect x="398.01" y="269.60" width="1" height="6.60" fill="#9a0a14"/><rect x="396.86" y="276.20" width="3.3" height="16.10" fill="#9a0a14"/><rect x="401.92" y="282.70" width="1" height="2.30" fill="#9a0a14"/><rect x="401.92" y="294.50" width="1" height="1.00" fill="#9a0a14"/><rect x="401.27" y="285.50" width="2.30" height="8.50" fill="#fff" stroke="#9a0a14" stroke-width="1"/><rect x="405.83" y="280.10" width="1" height="16.30" fill="#9a0a14"/><rect x="404.68" y="296.40" width="3.3" height="3.80" fill="#9a0a14"/><rect x="409.74" y="291.50" width="1" height="3.80" fill="#2eb82e"/><rect x="409.74" y="297.20" width="1" height="8.50" fill="#2eb82e"/><rect x="408.59" y="295.30" width="3.3" height="1.90" fill="#2eb82e"/><rect x="413.65" y="272.10" width="1" height="6.90" fill="#2eb82e"/><rect x="413.00" y="279.50" width="2.30" height="16.40" fill="#fff" stroke="#2eb82e" stroke-width="1"/><rect x="416.41" y="282.00" width="3.3" height="14.40" fill="#9a0a14"/><rect x="421.47" y="284.60" width="1" height="9.80" fill="#9a0a14"/><rect x="420.32" y="294.40" width="3.3" height="23.40" fill="#9a0a14"/><rect x="425.38" y="309.30" width="1" height="3.40" fill="#9a0a14"/><rect x="424.23" y="312.70" width="3.3" height="28.30" fill="#9a0a14"/><rect x="429.29" y="366.30" width="1" height="4.00" fill="#9a0a14"/><rect x="428.14" y="345.10" width="3.3" height="21.20" fill="#9a0a14"/><rect x="433.20" y="337.80" width="1" height="12.20" fill="#2eb82e"/><rect x="432.55" y="350.50" width="2.30" height="9.60" fill="#fff" stroke="#2eb82e" stroke-width="1"/><rect x="437.11" y="332.90" width="1" height="8.10" fill="#2eb82e"/><rect x="436.46" y="341.50" width="2.30" height="7.20" fill="#fff" stroke="#2eb82e" stroke-width="1"/><rect x="440.37" y="309.80" width="2.30" height="28.30" fill="#fff" stroke="#2eb82e" stroke-width="1"/><rect x="444.93" y="302.80" width="1" height="2.50" fill="#2eb82e"/><rect x="444.93" y="308.20" width="1" height="2.80" fill="#2eb82e"/><rect x="444.28" y="305.80" width="2.30" height="1.90" fill="#fff" stroke="#2eb82e" stroke-width="1"/><rect x="448.84" y="290.00" width="1" height="0.70" fill="#2eb82e"/><rect x="448.19" y="291.20" width="2.30" height="20.10" fill="#fff" stroke="#2eb82e" stroke-width="1"/><rect x="452.75" y="292.00" width="1" height="2.70" fill="#9a0a14"/><rect x="451.60" y="294.70" width="3.3" height="7.00" fill="#9a0a14"/><rect x="456.66" y="295.50" width="1" height="6.50" fill="#9a0a14"/><rect x="455.51" y="302.00" width="3.3" height="4.10" fill="#9a0a14"/><rect x="460.57" y="315.90" width="1" height="10.50" fill="#9a0a14"/><rect x="459.42" y="310.20" width="3.3" height="5.70" fill="#9a0a14"/><rect x="464.48" y="317.40" width="1" height="10.60" fill="#9a0a14"/><rect x="463.33" y="328.00" width="3.3" height="7.30" fill="#9a0a14"/><rect x="468.39" y="321.50" width="1" height="9.00" fill="#2eb82e"/><rect x="468.39" y="333.70" width="1" height="4.30" fill="#2eb82e"/><rect x="467.74" y="331.00" width="2.30" height="2.20" fill="#fff" stroke="#2eb82e" stroke-width="1"/><rect x="472.30" y="315.60" width="1" height="4.60" fill="#2eb82e"/><rect x="472.30" y="332.00" width="1" height="6.50" fill="#2eb82e"/><rect x="471.65" y="320.70" width="2.30" height="10.80" fill="#fff" stroke="#2eb82e" stroke-width="1"/><rect x="475.56" y="305.60" width="2.30" height="16.90" fill="#fff" stroke="#2eb82e" stroke-width="1"/><rect x="480.12" y="304.20" width="1" height="3.30" fill="#9a0a14"/><rect x="478.97" y="307.50" width="3.3" height="21.20" fill="#9a0a14"/><rect x="484.03" y="310.70" width="1" height="4.30" fill="#2eb82e"/><rect x="484.03" y="328.00" width="1" height="3.80" fill="#2eb82e"/><rect x="483.38" y="315.50" width="2.30" height="12.00" fill="#fff" stroke="#2eb82e" stroke-width="1"/><rect x="487.94" y="317.20" width="1" height="4.90" fill="#9a0a14"/><rect x="487.94" y="324.00" width="1" height="4.60" fill="#9a0a14"/><rect x="486.79" y="322.10" width="3.3" height="1.90" fill="#9a0a14"/><rect x="491.85" y="312.30" width="1" height="8.20" fill="#9a0a14"/><rect x="490.70" y="320.50" width="3.3" height="4.00" fill="#9a0a14"/><rect x="495.76" y="305.00" width="1" height="10.60" fill="#2eb82e"/><rect x="495.76" y="323.70" width="1" height="10.60" fill="#2eb82e"/><rect x="495.11" y="316.10" width="2.30" height="7.10" fill="#fff" stroke="#2eb82e" stroke-width="1"/><rect x="499.67" y="287.90" width="1" height="17.10" fill="#9a0a14"/><rect x="498.52" y="305.00" width="3.3" height="13.00" fill="#9a0a14"/><rect x="503.58" y="304.20" width="1" height="4.90" fill="#2eb82e"/><rect x="502.93" y="309.60" width="2.30" height="7.90" fill="#fff" stroke="#2eb82e" stroke-width="1"/><rect x="507.49" y="305.00" width="1" height="2.40" fill="#9a0a14"/><rect x="506.34" y="307.40" width="3.3" height="11.40" fill="#9a0a14"/><rect x="511.40" y="314.00" width="1" height="8.50" fill="#9a0a14"/><rect x="511.40" y="323.50" width="1" height="2.70" fill="#9a0a14"/><rect x="510.25" y="322.50" width="3.3" height="1.00" fill="#9a0a14"/><rect x="515.31" y="353.00" width="1" height="4.10" fill="#9a0a14"/><rect x="514.16" y="329.40" width="3.3" height="23.60" fill="#9a0a14"/><rect x="519.22" y="348.10" width="1" height="6.50" fill="#2eb82e"/><rect x="518.57" y="338.90" width="2.30" height="8.70" fill="#fff" stroke="#2eb82e" stroke-width="1"/><rect x="523.13" y="342.40" width="1" height="2.50" fill="#9a0a14"/><rect x="521.98" y="344.90" width="3.3" height="6.50" fill="#9a0a14"/><rect x="527.04" y="348.00" width="1" height="3.40" fill="#9a0a14"/><rect x="525.89" y="351.40" width="3.3" height="3.20" fill="#9a0a14"/><rect x="530.95" y="348.00" width="1" height="5.00" fill="#9a0a14"/><rect x="530.95" y="357.90" width="1" height="3.20" fill="#9a0a14"/><rect x="529.80" y="353.00" width="3.3" height="4.90" fill="#9a0a14"/><rect x="534.86" y="353.00" width="1" height="4.90" fill="#2eb82e"/><rect x="533.71" y="351.40" width="3.3" height="1.60" fill="#2eb82e"/><rect x="538.77" y="344.90" width="1" height="7.60" fill="#9a0a14"/><rect x="537.62" y="352.50" width="3.3" height="1.00" fill="#9a0a14"/><rect x="542.68" y="340.00" width="1" height="9.80" fill="#2eb82e"/><rect x="541.53" y="349.80" width="3.3" height="1.00" fill="#2eb82e"/><rect x="546.59" y="338.40" width="1" height="3.20" fill="#2eb82e"/><rect x="545.94" y="342.10" width="2.30" height="8.00" fill="#fff" stroke="#2eb82e" stroke-width="1"/><rect x="550.50" y="342.40" width="1" height="1.60" fill="#9a0a14"/><rect x="549.35" y="344.00" width="3.3" height="9.70" fill="#9a0a14"/><rect x="554.41" y="341.80" width="1" height="4.50" fill="#2eb82e"/><rect x="553.76" y="346.80" width="2.30" height="1.90" fill="#fff" stroke="#2eb82e" stroke-width="1"/><rect x="558.32" y="329.40" width="1" height="2.70" fill="#2eb82e"/><rect x="557.67" y="332.60" width="2.30" height="8.90" fill="#fff" stroke="#2eb82e" stroke-width="1"/><rect x="562.23" y="324.20" width="1" height="1.90" fill="#2eb82e"/><rect x="561.58" y="326.60" width="2.30" height="3.60" fill="#fff" stroke="#2eb82e" stroke-width="1"/><rect x="566.14" y="324.00" width="1" height="1.00" fill="#9a0a14"/><rect x="566.14" y="326.10" width="1" height="2.90" fill="#9a0a14"/><rect x="564.99" y="325.00" width="3.3" height="1.10" fill="#9a0a14"/><rect x="569.40" y="314.10" width="2.30" height="12.80" fill="#fff" stroke="#2eb82e" stroke-width="1"/><rect x="572.81" y="316.00" width="3.3" height="7.40" fill="#9a0a14"/><rect x="576.72" y="326.10" width="3.3" height="16.00" fill="#9a0a14"/><rect x="580.63" y="341.80" width="3.3" height="5.20" fill="#9a0a14"/><rect x="585.69" y="348.60" width="1" height="4.10" fill="#9a0a14"/><rect x="584.54" y="347.00" width="3.3" height="1.60" fill="#9a0a14"/><rect x="588.95" y="345.80" width="2.30" height="3.60" fill="#fff" stroke="#2eb82e" stroke-width="1"/><rect x="593.51" y="338.00" width="1" height="4.10" fill="#2eb82e"/><rect x="592.36" y="342.10" width="3.3" height="1.60" fill="#2eb82e"/><rect x="597.42" y="338.00" width="1" height="4.90" fill="#9a0a14"/><rect x="597.42" y="346.20" width="1" height="4.80" fill="#9a0a14"/><rect x="596.27" y="342.90" width="3.3" height="3.30" fill="#9a0a14"/><rect x="601.33" y="347.00" width="1" height="4.80" fill="#2eb82e"/><rect x="600.68" y="337.70" width="2.30" height="8.80" fill="#fff" stroke="#2eb82e" stroke-width="1"/><rect x="605.24" y="329.00" width="1" height="3.60" fill="#2eb82e"/><rect x="604.59" y="333.10" width="2.30" height="4.40" fill="#fff" stroke="#2eb82e" stroke-width="1"/><rect x="608.50" y="330.90" width="2.30" height="7.40" fill="#fff" stroke="#2eb82e" stroke-width="1"/><rect x="613.06" y="339.80" width="1" height="4.70" fill="#9a0a14"/><rect x="611.91" y="338.80" width="3.3" height="1.00" fill="#9a0a14"/><rect x="616.97" y="332.30" width="1" height="2.00" fill="#2eb82e"/><rect x="616.32" y="334.80" width="2.30" height="5.20" fill="#fff" stroke="#2eb82e" stroke-width="1"/><rect x="619.73" y="333.10" width="3.3" height="1.70" fill="#9a0a14"/><rect x="624.79" y="329.90" width="1" height="2.40" fill="#2eb82e"/><rect x="624.14" y="332.80" width="2.30" height="1.50" fill="#fff" stroke="#2eb82e" stroke-width="1"/><rect x="627.55" y="333.10" width="3.3" height="2.50" fill="#9a0a14"/><rect x="631.46" y="339.60" width="3.3" height="3.00" fill="#9a0a14"/><rect x="636.52" y="344.40" width="1" height="1.70" fill="#9a0a14"/><rect x="635.37" y="346.10" width="3.3" height="12.20" fill="#9a0a14"/><rect x="639.28" y="359.50" width="3.3" height="32.90" fill="#9a0a14"/><rect x="644.34" y="376.20" width="1" height="12.20" fill="#9a0a14"/><rect x="643.19" y="388.40" width="3.3" height="4.80" fill="#9a0a14"/><rect x="648.25" y="386.70" width="1" height="7.40" fill="#9a0a14"/><rect x="647.10" y="394.10" width="3.3" height="17.90" fill="#9a0a14"/><rect x="652.16" y="388.40" width="1" height="20.30" fill="#2eb82e"/><rect x="651.01" y="408.70" width="3.3" height="1.60" fill="#2eb82e"/><rect x="656.07" y="391.60" width="1" height="10.40" fill="#2eb82e"/><rect x="655.42" y="402.50" width="2.30" height="1.60" fill="#fff" stroke="#2eb82e" stroke-width="1"/><rect x="659.98" y="397.30" width="1" height="5.70" fill="#9a0a14"/><rect x="659.98" y="416.00" width="1" height="5.00" fill="#9a0a14"/><rect x="658.83" y="403.00" width="3.3" height="13.00" fill="#9a0a14"/><rect x="663.24" y="395.70" width="2.30" height="21.50" fill="#fff" stroke="#2eb82e" stroke-width="1"/><rect x="667.15" y="377.80" width="2.30" height="14.10" fill="#fff" stroke="#2eb82e" stroke-width="1"/><rect x="670.56" y="378.90" width="3.3" height="8.20" fill="#9a0a14"/><rect x="674.97" y="369.70" width="2.30" height="16.90" fill="#fff" stroke="#2eb82e" stroke-width="1"/><rect x="679.53" y="366.40" width="1" height="0.80" fill="#2eb82e"/><rect x="678.88" y="367.70" width="2.30" height="3.10" fill="#fff" stroke="#2eb82e" stroke-width="1"/><rect x="683.44" y="369.60" width="1" height="5.70" fill="#2eb82e"/><rect x="682.79" y="360.40" width="2.30" height="8.70" fill="#fff" stroke="#2eb82e" stroke-width="1"/><rect x="687.35" y="364.80" width="1" height="4.00" fill="#9a0a14"/><rect x="686.20" y="360.70" width="3.3" height="4.10" fill="#9a0a14"/><rect x="691.26" y="379.40" width="1" height="2.40" fill="#9a0a14"/><rect x="690.11" y="366.40" width="3.3" height="13.00" fill="#9a0a14"/><rect x="695.17" y="378.60" width="1" height="4.60" fill="#9a0a14"/><rect x="695.17" y="384.30" width="1" height="12.20" fill="#9a0a14"/><rect x="694.02" y="383.20" width="3.3" height="1.10" fill="#9a0a14"/><rect x="699.08" y="383.50" width="1" height="3.00" fill="#9a0a14"/><rect x="697.93" y="386.50" width="3.3" height="22.00" fill="#9a0a14"/><rect x="702.99" y="402.80" width="1" height="10.20" fill="#9a0a14"/><rect x="701.84" y="413.00" width="3.3" height="16.40" fill="#9a0a14"/><rect x="706.90" y="418.80" width="1" height="10.60" fill="#9a0a14"/><rect x="706.90" y="440.30" width="1" height="5.40" fill="#9a0a14"/><rect x="705.75" y="429.40" width="3.3" height="10.90" fill="#9a0a14"/><rect x="710.81" y="428.60" width="1" height="10.60" fill="#9a0a14"/><rect x="709.66" y="439.20" width="3.3" height="2.40" fill="#9a0a14"/><rect x="714.72" y="408.20" width="1" height="9.00" fill="#2eb82e"/><rect x="714.07" y="417.70" width="2.30" height="18.50" fill="#fff" stroke="#2eb82e" stroke-width="1"/><rect x="718.63" y="414.80" width="1" height="2.40" fill="#9a0a14"/><rect x="718.63" y="435.90" width="1" height="2.50" fill="#9a0a14"/><rect x="717.48" y="417.20" width="3.3" height="18.70" fill="#9a0a14"/><rect x="722.54" y="423.70" width="1" height="11.40" fill="#9a0a14"/><rect x="721.39" y="435.10" width="3.3" height="3.30" fill="#9a0a14"/><rect x="726.45" y="445.70" width="1" height="5.70" fill="#9a0a14"/><rect x="726.45" y="453.80" width="1" height="2.50" fill="#9a0a14"/><rect x="725.80" y="451.90" width="2.30" height="1.40" fill="#fff" stroke="#9a0a14" stroke-width="1"/><rect x="730.36" y="446.50" width="1" height="4.90" fill="#9a0a14"/><rect x="730.36" y="453.80" width="1" height="3.30" fill="#9a0a14"/><rect x="729.71" y="451.90" width="2.30" height="1.40" fill="#fff" stroke="#9a0a14" stroke-width="1"/><rect x="734.27" y="446.50" width="1" height="2.40" fill="#2eb82e"/><rect x="734.27" y="451.40" width="1" height="2.40" fill="#2eb82e"/><rect x="733.62" y="449.40" width="2.30" height="1.50" fill="#fff" stroke="#2eb82e" stroke-width="1"/><rect x="738.18" y="449.80" width="1" height="4.00" fill="#2eb82e"/><rect x="737.53" y="444.60" width="2.30" height="4.70" fill="#fff" stroke="#2eb82e" stroke-width="1"/><rect x="742.09" y="427.80" width="1" height="12.20" fill="#2eb82e"/><rect x="740.94" y="440.00" width="3.3" height="1.60" fill="#2eb82e"/><rect x="746.00" y="439.20" width="1" height="2.40" fill="#9a0a14"/><rect x="744.85" y="441.60" width="3.3" height="10.40" fill="#9a0a14"/><rect x="749.26" y="425.80" width="2.30" height="26.00" fill="#fff" stroke="#2eb82e" stroke-width="1"/><rect x="752.67" y="431.80" width="3.3" height="6.30" fill="#9a0a14"/><rect x="757.08" y="424.20" width="2.30" height="11.60" fill="#fff" stroke="#2eb82e" stroke-width="1"/><rect x="761.64" y="419.60" width="1" height="1.70" fill="#2eb82e"/><rect x="760.99" y="421.80" width="2.30" height="13.60" fill="#fff" stroke="#2eb82e" stroke-width="1"/><rect x="764.90" y="412.80" width="2.30" height="10.40" fill="#fff" stroke="#2eb82e" stroke-width="1"/><rect x="769.46" y="410.70" width="1" height="3.20" fill="#9a0a14"/><rect x="769.46" y="436.70" width="1" height="8.10" fill="#9a0a14"/><rect x="768.31" y="413.90" width="3.3" height="22.80" fill="#9a0a14"/><rect x="773.37" y="427.00" width="1" height="7.50" fill="#9a0a14"/><rect x="772.22" y="434.50" width="3.3" height="3.10" fill="#9a0a14"/><rect x="777.28" y="439.20" width="1" height="2.40" fill="#9a0a14"/><rect x="776.13" y="441.60" width="3.3" height="10.70" fill="#9a0a14"/><rect x="781.19" y="473.00" width="1" height="21.60" fill="#9a0a14"/><rect x="780.04" y="451.20" width="3.3" height="21.80" fill="#9a0a14"/><rect x="785.10" y="451.50" width="1" height="6.90" fill="#2eb82e"/><rect x="785.10" y="468.20" width="1" height="4.80" fill="#2eb82e"/><rect x="784.45" y="458.90" width="2.30" height="8.80" fill="#fff" stroke="#2eb82e" stroke-width="1"/><rect x="789.01" y="454.50" width="1" height="4.80" fill="#9a0a14"/><rect x="787.86" y="459.30" width="3.3" height="26.50" fill="#9a0a14"/><rect x="791.77" y="487.70" width="3.3" height="24.10" fill="#9a0a14"/><rect x="796.83" y="500.40" width="1" height="9.40" fill="#9a0a14"/><rect x="796.83" y="535.10" width="1" height="5.40" fill="#9a0a14"/><rect x="795.68" y="509.80" width="3.3" height="25.30" fill="#9a0a14"/></g>
<path d="M2.70,334.60 C7.77,333.40 6.87,333.80 17.90,331.00 C28.93,328.20 26.23,329.17 35.80,326.20 C45.37,323.23 37.63,325.27 46.60,322.10 C55.57,318.93 51.37,320.60 62.70,316.70 C74.03,312.80 68.67,314.57 80.60,310.40 C92.53,306.23 87.17,308.47 98.50,304.20 C109.83,299.93 103.33,302.37 114.60,297.60 C125.87,292.83 122.17,293.87 132.30,289.90 C142.43,285.93 135.13,288.53 145.00,285.70 C154.87,282.87 151.90,283.50 161.90,281.40 C171.90,279.30 166.33,280.47 175.00,279.40 C183.67,278.33 177.63,279.43 187.90,278.20 C198.17,276.97 193.87,276.97 205.80,275.70 C217.73,274.43 211.77,275.13 223.70,274.40 C235.63,273.67 229.63,273.97 241.60,273.50 C253.57,273.03 247.63,273.17 259.60,273.00 C271.57,272.83 267.37,272.90 277.50,273.00 C287.63,273.10 283.20,273.03 290.00,273.30 C296.80,273.57 289.30,273.50 297.90,273.80 C306.50,274.10 303.87,274.37 315.80,274.20 C327.73,274.03 321.77,273.60 333.70,273.30 C345.63,273.00 341.43,273.30 351.60,273.30 C361.77,273.30 354.63,272.90 364.20,273.30 C373.77,273.70 371.70,273.80 380.30,274.50 C388.90,275.20 380.80,274.50 390.00,275.40 C399.20,276.30 395.97,275.70 407.90,277.20 C419.83,278.70 413.87,278.43 425.80,279.90 C437.73,281.37 431.77,280.43 443.70,281.60 C455.63,282.77 449.63,282.20 461.60,283.40 C473.57,284.60 467.63,284.00 479.60,285.20 C491.57,286.40 484.73,285.97 497.50,287.00 C510.27,288.03 505.13,287.17 517.90,288.30 C530.67,289.43 522.37,289.20 535.80,290.40 C549.23,291.60 543.27,291.77 558.20,291.90 C573.13,292.03 566.57,291.30 580.60,290.80 C594.63,290.30 587.17,290.63 600.30,290.40 C613.43,290.17 606.03,290.17 620.00,290.10 C633.97,290.03 630.60,289.70 642.20,290.20 C653.80,290.70 644.63,290.70 654.80,291.60 C664.97,292.50 660.77,292.47 672.70,292.90 C684.63,293.33 678.67,292.53 690.60,292.90 C702.53,293.27 698.70,293.70 708.50,294.00 C718.30,294.30 710.43,293.40 720.00,293.80 C729.57,294.20 727.67,294.37 737.20,295.20 C746.73,296.03 741.00,295.67 748.60,296.30 C756.20,296.93 753.13,296.80 760.00,297.10 C766.87,297.40 762.70,296.70 769.20,297.20 C775.70,297.70 773.03,297.67 779.50,298.60 C785.97,299.53 782.70,298.47 788.60,300.00 C794.50,301.53 794.33,302.13 797.20,303.20" fill="none" stroke="#008000" stroke-width="2.0" stroke-linejoin="round" stroke-linecap="round" shape-rendering="crispEdges"/>
<path d="M2.70,364.50 C7.77,363.80 8.07,364.60 17.90,362.40 C27.73,360.20 23.83,360.60 32.20,357.90 C40.57,355.20 36.43,357.27 43.00,354.30 C49.57,351.33 45.33,353.47 51.90,349.00 C58.47,344.53 54.93,346.30 62.70,340.90 C70.47,335.50 66.83,337.87 75.20,332.80 C83.57,327.73 80.33,330.77 87.80,325.70 C95.27,320.63 91.63,322.97 97.60,317.60 C103.57,312.23 100.57,315.47 105.70,309.60 C110.83,303.73 107.73,307.20 113.00,300.00 C118.27,292.80 116.17,294.67 121.50,288.00 C126.83,281.33 123.23,285.90 129.00,280.00 C134.77,274.10 131.93,277.10 138.80,270.30 C145.67,263.50 142.43,266.47 149.60,259.60 C156.77,252.73 153.63,254.97 160.30,249.70 C166.97,244.43 163.97,247.97 169.60,243.80 C175.23,239.63 172.30,241.50 177.20,237.20 C182.10,232.90 179.53,235.40 184.30,230.90 C189.07,226.40 186.70,227.77 191.50,223.70 C196.30,219.63 193.93,221.07 198.70,218.70 C203.47,216.33 200.43,217.80 205.80,216.60 C211.17,215.40 208.83,215.70 214.80,215.10 C220.77,214.50 217.73,215.20 223.70,214.80 C229.67,214.40 226.73,214.80 232.70,213.90 C238.67,213.00 236.23,212.53 241.60,212.10 C246.97,211.67 243.40,211.70 248.80,212.60 C254.20,213.50 251.83,212.87 257.80,214.80 C263.77,216.73 260.13,215.73 266.70,218.40 C273.27,221.07 271.53,220.43 277.50,222.80 C283.47,225.17 280.43,223.77 284.60,225.50 C288.77,227.23 286.77,226.70 290.00,228.00 C293.23,229.30 290.47,227.73 294.30,229.40 C298.13,231.07 296.70,230.30 301.50,233.00 C306.30,235.70 303.93,234.53 308.70,237.50 C313.47,240.47 311.03,239.83 315.80,241.90 C320.57,243.97 318.20,242.50 323.00,243.70 C327.80,244.90 324.83,244.40 330.20,245.50 C335.57,246.60 333.13,246.70 339.10,247.00 C345.07,247.30 342.73,247.00 348.10,246.40 C353.47,245.80 350.43,246.10 355.20,245.20 C359.97,244.30 357.60,243.90 362.40,243.70 C367.20,243.50 364.83,243.70 369.60,244.60 C374.37,245.50 371.93,245.50 376.70,246.40 C381.47,247.30 379.30,246.50 383.90,247.30 C388.50,248.10 385.47,247.17 390.50,248.80 C395.53,250.43 392.60,250.20 399.00,252.20 C405.40,254.20 403.13,253.93 409.70,254.80 C416.27,255.67 413.33,253.60 418.70,254.80 C424.07,256.00 421.03,255.73 425.80,258.40 C430.57,261.07 428.20,260.13 433.00,262.80 C437.80,265.47 434.23,264.43 440.20,266.40 C446.17,268.37 443.77,267.33 450.90,268.70 C458.03,270.07 454.43,269.30 461.60,270.50 C468.77,271.70 465.23,271.27 472.40,272.30 C479.57,273.33 475.93,272.77 483.10,273.60 C490.27,274.43 487.60,273.73 493.90,274.80 C500.20,275.87 497.57,275.47 502.00,276.80 C506.43,278.13 502.50,276.63 507.20,278.80 C511.90,280.97 510.73,280.00 516.10,283.30 C521.47,286.60 517.93,284.53 523.30,288.70 C528.67,292.87 526.23,291.33 532.20,295.80 C538.17,300.27 535.20,297.90 541.20,302.10 C547.20,306.30 544.83,304.83 550.20,308.40 C555.57,311.97 551.93,309.93 557.30,312.80 C562.67,315.67 560.33,314.00 566.30,317.00 C572.27,320.00 569.23,318.70 575.20,321.80 C581.17,324.90 578.23,323.90 584.20,326.30 C590.17,328.70 587.13,327.50 593.10,329.00 C599.07,330.50 596.10,329.63 602.10,330.80 C608.10,331.97 606.07,331.83 611.10,332.50 C616.13,333.17 612.80,333.00 617.20,332.80 C621.60,332.60 618.93,332.07 624.30,331.90 C629.67,331.73 627.93,331.40 633.30,332.30 C638.67,333.20 635.63,332.63 640.40,334.60 C645.17,336.57 642.20,335.50 647.60,338.20 C653.00,340.90 650.63,340.13 656.60,342.70 C662.57,345.27 659.53,344.00 665.50,345.90 C671.47,347.80 668.53,346.77 674.50,348.40 C680.47,350.03 678.03,349.23 683.40,350.80 C688.77,352.37 685.20,350.97 690.60,353.10 C696.00,355.23 692.97,354.07 699.60,357.20 C706.23,360.33 703.27,359.47 710.50,362.50 C717.73,365.53 714.07,362.83 721.30,366.30 C728.53,369.77 724.97,368.90 732.20,372.90 C739.43,376.90 735.83,375.00 743.00,378.30 C750.17,381.60 746.53,379.53 753.70,382.80 C760.87,386.07 757.33,384.53 764.50,388.10 C771.67,391.67 768.63,389.60 775.20,393.50 C781.77,397.40 778.83,395.90 784.20,399.80 C789.57,403.70 786.83,401.63 791.30,405.20 C795.77,408.77 795.50,408.73 797.60,410.50" fill="none" stroke="#0000ff" stroke-width="2.0" stroke-linejoin="round" stroke-linecap="round" shape-rendering="crispEdges"/>
<path d="M2.70,381.70 C5.37,377.97 5.63,377.53 10.70,370.50 C15.77,363.47 12.50,368.37 17.90,360.60 C23.30,352.83 20.93,355.57 26.90,347.20 C32.87,338.83 29.23,343.87 35.80,335.50 C42.37,327.13 40.03,331.03 46.60,322.10 C53.17,313.17 50.13,317.97 55.50,308.70 C60.87,299.43 57.90,303.87 62.70,294.30 C67.50,284.73 64.83,290.40 69.90,280.00 C74.97,269.60 72.23,273.80 77.90,263.10 C83.57,252.40 80.93,256.23 86.90,247.90 C92.87,239.57 90.43,244.37 95.80,238.10 C101.17,231.83 98.20,235.67 103.00,229.10 C107.80,222.53 105.43,225.57 110.20,218.40 C114.97,211.23 112.53,214.17 117.30,207.60 C122.07,201.03 119.73,204.67 124.50,198.70 C129.27,192.73 126.83,194.50 131.60,189.70 C136.37,184.90 134.00,186.57 138.80,184.30 C143.60,182.03 141.23,183.20 146.00,182.90 C150.77,182.60 148.33,182.03 153.10,183.40 C157.87,184.77 155.50,185.20 160.30,187.00 C165.10,188.80 162.73,187.90 167.50,188.80 C172.27,189.70 169.00,187.60 174.60,189.70 C180.20,191.80 178.67,191.80 184.30,195.10 C189.93,198.40 186.70,196.33 191.50,199.60 C196.30,202.87 193.93,201.03 198.70,204.90 C203.47,208.77 201.03,206.10 205.80,211.20 C210.57,216.30 208.80,214.83 213.00,220.20 C217.20,225.57 214.23,223.13 218.40,227.30 C222.57,231.47 220.73,230.30 225.50,232.70 C230.27,235.10 227.33,234.20 232.70,234.50 C238.07,234.80 236.23,233.00 241.60,233.60 C246.97,234.20 244.00,233.63 248.80,236.30 C253.60,238.97 251.23,238.03 256.00,241.60 C260.77,245.17 258.33,242.50 263.10,247.00 C267.87,251.50 265.50,250.33 270.30,255.10 C275.10,259.87 272.73,257.13 277.50,261.30 C282.27,265.47 280.43,264.60 284.60,267.60 C288.77,270.60 286.77,269.00 290.00,270.30 C293.23,271.60 290.47,271.40 294.30,271.50 C298.13,271.60 296.70,270.43 301.50,270.60 C306.30,270.77 303.93,270.80 308.70,272.00 C313.47,273.20 311.03,274.37 315.80,274.20 C320.57,274.03 318.20,274.20 323.00,271.50 C327.80,268.80 325.43,269.40 330.20,266.10 C334.97,262.80 332.53,264.87 337.30,261.60 C342.07,258.33 339.73,260.47 344.50,256.30 C349.27,252.13 346.83,254.20 351.60,249.10 C356.37,244.00 354.00,246.37 358.80,241.00 C363.60,235.63 361.23,237.17 366.00,233.00 C370.77,228.83 368.33,230.90 373.10,228.50 C377.87,226.10 375.50,227.00 380.30,225.80 C385.10,224.60 382.73,224.50 387.50,224.90 C392.27,225.30 390.20,224.20 394.60,227.00 C399.00,229.80 396.27,228.83 400.70,233.30 C405.13,237.77 403.10,235.63 407.90,240.40 C412.70,245.17 410.33,242.50 415.10,247.60 C419.87,252.70 418.03,250.33 422.20,255.70 C426.37,261.07 424.00,256.83 427.60,263.70 C431.20,270.57 429.40,269.13 433.00,276.30 C436.60,283.47 434.83,280.13 438.40,285.20 C441.97,290.27 439.53,288.20 443.70,291.50 C447.87,294.80 446.10,291.83 450.90,295.10 C455.70,298.37 453.93,296.83 458.10,301.30 C462.27,305.77 459.83,304.43 463.40,308.50 C466.97,312.57 464.60,311.00 468.80,313.50 C473.00,316.00 471.23,314.37 476.00,316.00 C480.77,317.63 478.43,316.57 483.10,318.40 C487.77,320.23 485.70,320.20 490.00,321.50 C494.30,322.80 492.67,322.20 496.00,322.30 C499.33,322.40 496.87,322.57 500.00,321.80 C503.13,321.03 501.53,321.50 505.40,320.00 C509.27,318.50 507.43,317.60 511.60,317.30 C515.77,317.00 513.40,317.00 517.90,319.10 C522.40,321.20 520.33,320.30 525.10,323.60 C529.87,326.90 527.43,326.20 532.20,329.00 C536.97,331.80 534.60,330.40 539.40,332.00 C544.20,333.60 541.83,332.13 546.60,333.80 C551.37,335.47 548.93,335.80 553.70,337.00 C558.47,338.20 556.10,337.27 560.90,337.40 C565.70,337.53 563.33,337.23 568.10,337.40 C572.87,337.57 570.43,336.83 575.20,337.90 C579.97,338.97 577.60,339.10 582.40,340.60 C587.20,342.10 584.83,341.67 589.60,342.40 C594.37,343.13 591.93,343.10 596.70,342.80 C601.47,342.50 599.10,342.83 603.90,341.50 C608.70,340.17 606.67,340.07 611.10,338.80 C615.53,337.53 612.80,338.50 617.20,337.70 C621.60,336.90 619.53,337.00 624.30,336.40 C629.07,335.80 626.70,335.00 631.50,335.90 C636.30,336.80 633.93,335.63 638.70,339.10 C643.47,342.57 641.03,341.53 645.80,346.30 C650.57,351.07 648.20,349.23 653.00,353.40 C657.80,357.57 655.43,355.80 660.20,358.80 C664.97,361.80 662.53,360.00 667.30,362.40 C672.07,364.80 669.73,363.90 674.50,366.00 C679.27,368.10 676.83,366.63 681.60,368.70 C686.37,370.77 684.00,369.23 688.80,372.20 C693.60,375.17 692.10,374.50 696.00,377.60 C699.90,380.70 697.37,378.30 700.50,381.50 C703.63,384.70 702.00,382.90 705.40,387.20 C708.80,391.50 706.53,390.50 710.70,394.40 C714.87,398.30 712.50,395.90 717.90,398.90 C723.30,401.90 720.93,400.13 726.90,403.40 C732.87,406.67 729.83,404.83 735.80,408.70 C741.77,412.57 738.83,410.80 744.80,415.00 C750.77,419.20 747.73,417.70 753.70,421.30 C759.67,424.90 756.73,422.23 762.70,425.80 C768.67,429.37 765.63,428.13 771.60,432.00 C777.57,435.87 775.20,434.10 780.60,437.40 C786.00,440.70 783.63,438.63 787.80,441.90 C791.97,445.17 789.83,443.43 793.10,447.20 C796.37,450.97 796.10,451.20 797.60,453.20" fill="none" stroke="#ff0000" stroke-width="2.0" stroke-linejoin="round" stroke-linecap="round" shape-rendering="crispEdges"/>
<polyline points="2.1,42.9 7.4,27.8 11.4,27.8 15.4,20.6 18.9,20.4 24.0,17.5 26.9,16.6 30.9,13.5 34.3,11.4 38.9,22.1 42.9,20.9 46.3,15.1 50.3,16.9 54.3,13.2 58.4,12.0 62.4,10.3 66.1,8.6 70.4,14.9 74.4,11.2 77.8,10.5 81.8,13.7 85.2,12.0 89.2,24.0 93.6,29.7 99.5,21.2 101.7,18.7 109.2,11.2 113.7,17.7 117.5,18.0 121.2,15.0 125.0,31.2 132.5,24.3 137.0,33.7 140.7,46.5 144.5,55.2 148.2,48.7 152.0,54.0 156.5,59.5 162.5,61.9 168.5,59.5 171.5,50.2 176.0,47.7 182.7,52.0 189.0,48.0 195.0,52.7 200.5,53.2 206.5,57.0 210.2,66.0 214.7,75.7 218.5,72.0 222.2,72.0 226.0,62.2 234.2,48.4 239.5,51.0 245.5,57.0 250.0,59.5 254.5,63.0 259.0,65.2 262.7,69.0 266.5,74.2 269.5,74.5 277.0,65.5 280.7,68.2 285.2,73.5 289.5,73.8 292.5,72.7 296.2,53.2 300.7,46.8 304.5,55.0 309.0,49.5 312.7,46.8 316.5,39.7 320.2,32.2 324.0,29.5 327.7,27.0 331.5,30.0 336.0,36.0 339.0,36.7 344.2,45.7 351.7,32.2 355.5,29.7 359.2,30.0 363.0,43.5 367.5,52.5 371.2,59.5 375.0,56.2 378.7,55.2 382.5,56.0 386.7,52.5 390.5,55.5 394.2,64.5 398.0,69.7 404.0,71.7 409.2,72.0 414.2,60.7 419.7,69.0 425.0,77.2 429.8,82.5 433.2,75.0 437.7,70.5 440.7,58.5 444.5,56.7 449.3,51.7 453.5,55.2 458.7,57.7 464.7,66.0 470.0,61.5 476.5,53.2 480.7,60.0 484.3,56.2 488.5,58.2 492.2,58.2 496.0,54.0 499.3,55.0 503.8,51.7 508.0,55.8 511.7,57.3 515.5,67.5 519.2,60.7 523.0,64.5 526.7,65.5 531.2,66.7 535.0,63.3 538.7,64.2 542.5,62.7 546.7,56.7 550.7,63.0 554.5,57.7 558.2,51.0 562.0,48.3 566.5,47.7 570.2,41.3 573.7,46.5 577.8,56.7 581.2,58.2 585.0,59.2 589.5,56.2 593.2,54.7 597.3,57.7 601.5,51.7 606.0,48.3 609.7,48.3 613.5,54.0 616.8,48.4 621.0,49.9 624.3,48.7 628.5,52.2 633.0,56.2 636.7,67.5 640.5,79.0 644.2,79.5 648.3,84.7 652.5,81.0 656.2,78.3 660.0,82.5 663.7,66.7 667.5,56.7 671.7,60.4 676.2,52.5 680.0,51.4 683.7,46.8 687.5,48.7 692.0,56.2 695.7,60.0 699.5,68.2 703.2,75.0 707.0,77.5 710.0,78.3 714.8,63.3 719.7,69.7 722.7,70.5 726.5,73.5 734.0,73.5 737.7,70.5 742.2,66.7 746.0,71.2 749.7,56.2 753.5,60.7 757.5,54.7 761.5,52.0 765.5,48.3 769.2,58.2 773.0,58.5 777.2,64.5 781.2,70.8 785.0,64.5 789.5,73.5 793.2,78.3 797.0,82.2" fill="none" stroke="#ff0000" stroke-width="2.0" stroke-linejoin="round" stroke-linecap="round" shape-rendering="crispEdges"/>
<g fill="#0000ff" shape-rendering="auto">
<rect x="338.7" y="139.9" width="482.2" height="4.1"/>
<rect x="338.7" y="551" width="482.2" height="3.9"/>
<rect x="338.7" y="139.9" width="2.7" height="415"/>
<rect x="818.1" y="139.9" width="2.8" height="415"/>
</g>
</g>
</svg>
</body></html>
